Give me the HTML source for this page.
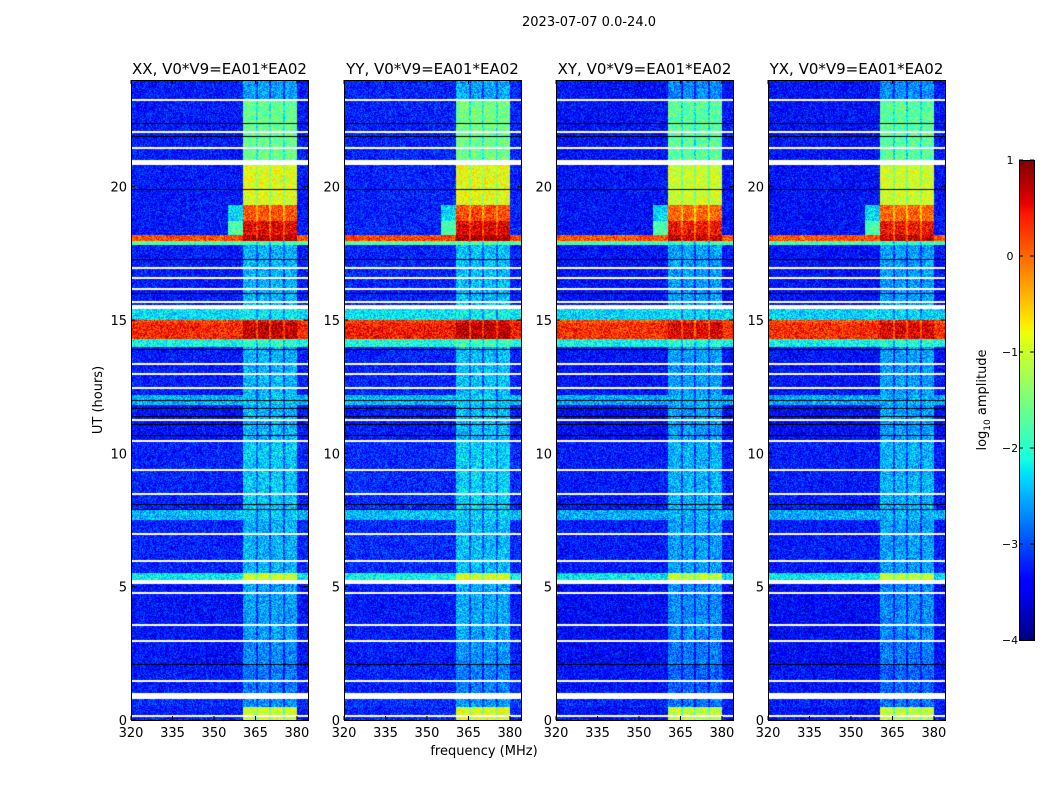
<!DOCTYPE html>
<html><head><meta charset="utf-8"><style>
body{margin:0;background:#fff;width:1050px;height:800px;overflow:hidden;position:relative;font-family:"DejaVu Sans","Liberation Sans",sans-serif}
canvas{position:absolute}
svg{position:absolute;left:0;top:0}
</style></head><body>
<div>
<canvas id="c0" width="177" height="640" style="left:131px;top:80px"></canvas>
<canvas id="c1" width="177" height="640" style="left:344px;top:80px"></canvas>
<canvas id="c2" width="177" height="640" style="left:556px;top:80px"></canvas>
<canvas id="c3" width="177" height="640" style="left:768px;top:80px"></canvas>
<canvas id="cb" width="15" height="480" style="left:1019px;top:160px"></canvas>
<svg id="ax" width="1050" height="800"></svg>
</div>
<script>
// ---- data ----
const panelTitles=["XX, V0*V9=EA01*EA02","YY, V0*V9=EA01*EA02","XY, V0*V9=EA01*EA02","YX, V0*V9=EA01*EA02"];
const panelLefts=[131,344,556,768];
const segT0=[0,0.5,0.8,1.0,2.1,3.0,5.1,5.25,5.5,7.5,7.9,10.5,11.8,12.2,14.0,14.3,14.9,15.0,15.4,15.55,17.8,17.95,18.2,18.7,19.3,20.8,21.0,23.2,23.3];
const segT1=[0.5,0.8,1.0,2.1,3.0,5.1,5.25,5.5,7.5,7.9,10.5,11.8,12.2,14.0,14.3,14.9,15.0,15.4,15.55,17.8,17.95,18.2,18.7,19.3,20.8,21.0,23.2,23.3,24];
const segBg=[-3.3,-3.2,null,-3.3,-3.35,-3.35,null,-2.2,-3.25,-2.5,-3.25,-3.35,-2.5,-3.3,-2.1,0.35,0.2,-2.3,null,-3.3,-1.8,0.15,-3.3,-3.3,-3.3,null,-3.3,null,-3.3];
const segRfi=[-1.0,-2.7,null,-2.8,-2.7,-2.6,null,-1.0,-2.5,-2.4,-2.4,-2.5,-2.4,-2.5,-1.9,0.7,0.5,-2.2,null,-2.5,-1.8,0.8,0.55,0.1,-0.9,null,-1.6,null,-2.6];
const segLeak=[null,null,null,null,null,null,null,null,null,null,null,null,null,null,null,null,null,null,null,null,null,null,-1.8,-2.3,null,null,null,null,null];
const polBgShift=[0,0.05,-0.05,-0.05];
const polRfiShift=[0,0.05,-0.1,-0.1];
const rfiF0=[360.4,365.8,370.5,375.6];
const rfiF1=[365.1,369.8,374.9,380.0];
const whiteLines=[0.2,1.5,3.0,3.6,4.8,6.0,7.0,8.5,9.4,10.5,11.3,12.5,13.0,13.4,15.7,16.2,16.6,17.0,21.5,22.1];
const blackLines=[2.1,7.9,8.1,10.7,11.1,11.4,11.7,12.0,13.9,16.0,17.3,19.9,21.9,22.4];
const xTicks=[320,335,350,365,380];
const yTicks=[0,5,10,15,20];
const cbTicks=[1,0,-1,-2,-3,-4];
const VMIN=-4,VMAX=1;
// ---- scales ----
const W=177,H=640,F0=320,F1=384,T0=0,T1=24;
const xf=f=>(f-F0)/(F1-F0)*W;
const yt=t=>H-(t-T0)/(T1-T0)*H;
function interp(p,x){for(let i=1;i<p.length;i++){if(x<=p[i][0]){const a=p[i-1],b=p[i];return a[1]+(b[1]-a[1])*(x-a[0])/(b[0]-a[0]);}}return p[p.length-1][1];}
function jet(v){const x=Math.max(0,Math.min(1,(v-VMIN)/(VMAX-VMIN)));
 const r=interp([[0,0],[0.35,0],[0.66,1],[0.89,1],[1,0.5]],x);
 const g=interp([[0,0],[0.125,0],[0.375,1],[0.64,1],[0.91,0],[1,0]],x);
 const b=interp([[0,0.5],[0.11,1],[0.34,1],[0.65,0],[1,0]],x);
 return [r*255,g*255,b*255];}
function hash(i,j){let h=(i*374761393+j*668265263)|0;h=(h^(h>>>13))*1274126177|0;return ((h^(h>>>16))>>>0)/4294967296;}
// ---- heatmaps ----
for(let p=0;p<4;p++){
 const cv=document.getElementById('c'+p),ctx=cv.getContext('2d');const img=ctx.createImageData(W,H);
 for(let y=0;y<H;y++){
  const t=T1-(y+0.5)/H*(T1-T0);let s=0;
  for(let k=0;k<segT0.length;k++){if(t>=segT0[k]&&t<segT1[k]){s=k;break;}}
  for(let x=0;x<W;x++){
   const f=F0+(x+0.5)/W*(F1-F0);let inR=false,gap=false;
   for(let r=0;r<rfiF0.length;r++){if(f>=rfiF0[r]&&f<rfiF1[r])inR=true;}
   if(!inR&&f>360.4&&f<380)gap=true;
   let col;
   if(segBg[s]===null){col=[255,255,255];}
   else{let v=inR?segRfi[s]+polRfiShift[p]:segBg[s]+polBgShift[p];
    if(gap)v=(segRfi[s]+polRfiShift[p])-0.5;
    if(segLeak[s]!==null&&f>355&&f<360.4)v=segLeak[s];
    v+=(hash(x+p*1000,y)-0.5)*0.9;col=jet(v);}
   const o=(y*W+x)*4;img.data[o]=col[0];img.data[o+1]=col[1];img.data[o+2]=col[2];img.data[o+3]=255;}
 }
 ctx.putImageData(img,0,0);
 ctx.fillStyle='#fff';whiteLines.forEach(t=>ctx.fillRect(0,Math.round(yt(t)),W,2));
 ctx.fillStyle='#000';blackLines.forEach(t=>ctx.fillRect(0,Math.round(yt(t)),W,1));
}
// colorbar
{const cv=document.getElementById('cb'),ctx=cv.getContext('2d');
 for(let y=0;y<480;y++){const v=VMAX-(y+0.5)/480*(VMAX-VMIN);const c=jet(v);ctx.fillStyle=`rgb(${c[0]|0},${c[1]|0},${c[2]|0})`;ctx.fillRect(0,y,15,1);}}
// ---- axes ----
const NS='http://www.w3.org/2000/svg',svg=document.getElementById('ax');
function el(tag,attrs,text){const e=document.createElementNS(NS,tag);for(const k in attrs)e.setAttribute(k,attrs[k]);if(text!==undefined)e.textContent=text;svg.appendChild(e);return e;}
const tt=el('text',{x:589,y:26,'text-anchor':'middle','font-size':13},'2023-07-07 0.0-24.0');


panelLefts.forEach((L,p)=>{
 const fr=el('rect',{x:L+0.5,y:80.5,width:W,height:H,fill:'none',stroke:'#000'});
 
 
 const ti=el('text',{x:L+W/2,y:74,'text-anchor':'middle','font-size':15},panelTitles[p]);
 
 
 xTicks.forEach(v=>{const x=L+xf(v);
  el('line',{x1:x,x2:x,y1:720,y2:716,stroke:'#000'});el('line',{x1:x,x2:x,y1:80,y2:84,stroke:'#000'});
  const t=el('text',{x:x,y:737,'text-anchor':'middle','font-size':13},String(v));
  
  });
 yTicks.forEach(v=>{const y=80+yt(v);
  el('line',{x1:L,x2:L+4,y1:y,y2:y,stroke:'#000'});el('line',{x1:L+W,x2:L+W-4,y1:y,y2:y,stroke:'#000'});
  const t=el('text',{x:L-4,y:y+5,'text-anchor':'end','font-size':13},String(v));
  
  });
});
const xl=el('text',{x:484,y:755,'text-anchor':'middle','font-size':13},'frequency (MHz)');


const yl=el('text',{x:0,y:0,'text-anchor':'middle','font-size':13,transform:'translate(102,400) rotate(-90)'},'UT (hours)');


const cbf=el('rect',{x:1019.5,y:160.5,width:15,height:480,fill:'none',stroke:'#000'});


cbTicks.forEach(v=>{const y=160+(VMAX-v)/(VMAX-VMIN)*480;
 el('line',{x1:1019,x2:1023,y1:y,y2:y,stroke:'#000'});el('line',{x1:1034,x2:1030,y1:y,y2:y,stroke:'#000'});
 const t=el('text',{x:1010,y:y+4,'text-anchor':'middle','font-size':11},v<0?'\u2212'+(-v):String(v));
 
 });
const cl=el('text',{x:0,y:0,'text-anchor':'middle','font-size':13,transform:'translate(986,400) rotate(-90)'});


cl.innerHTML='log<tspan font-size="9" dy="4">10</tspan><tspan dy="-4"> amplitude</tspan>';
</script>
</body></html>
